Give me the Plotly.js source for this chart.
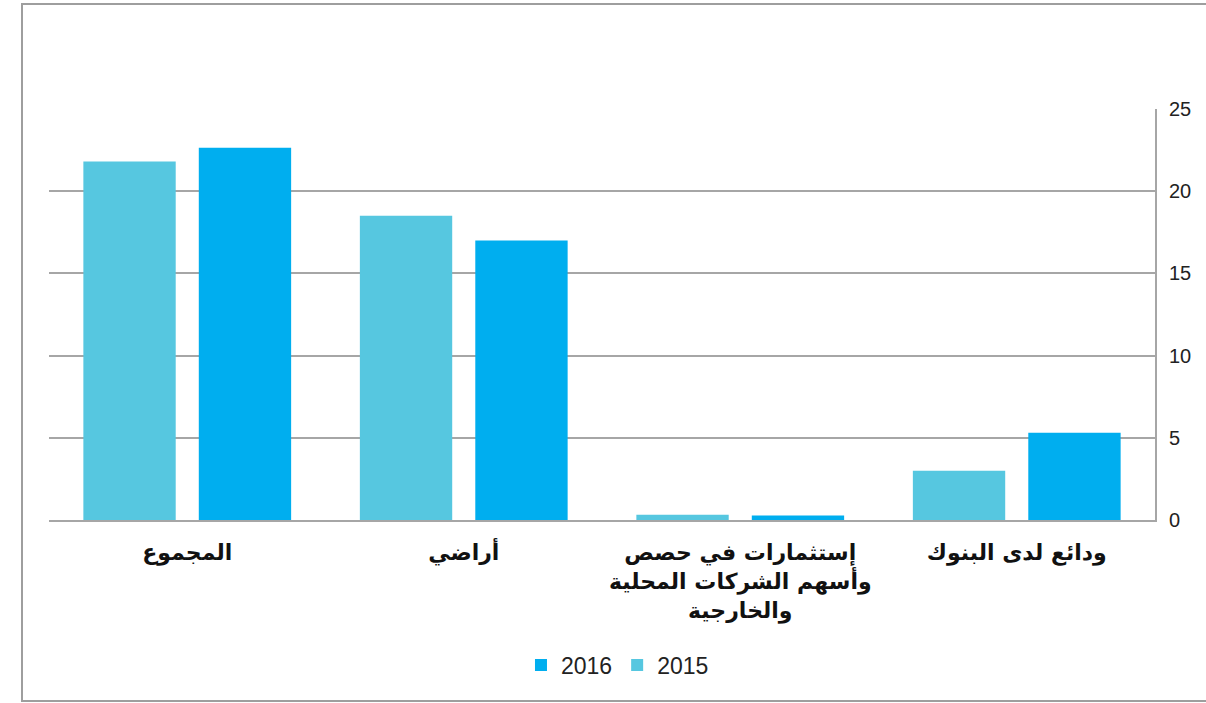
<!DOCTYPE html>
<html>
<head>
<meta charset="utf-8">
<script src="https://cdn.plot.ly/plotly-3.0.1.min.js"></script>
<style>
  html, body { margin: 0; padding: 0; background: #fff; }
  #chart { width: 1206px; height: 703px; }
</style>
</head>
<body>
<div id="chart"></div>
<script>
// categories listed right-to-left (the x axis is reversed)
const categories = [
  "ودائع لدى البنوك",
  "إستثمارات في حصص<br>وأسهم الشركات المحلية<br>والخارجية",
  "أراضي",
  "المجموع"
];
const values2016 = [5.3, 0.28, 17.0, 22.65];
const values2015 = [3.0, 0.32, 18.5, 21.8];
const yTicks = [0, 5, 10, 15, 20, 25];

const grid = "#a6a6a6";

Plotly.newPlot("chart", [
  {type: "bar", name: "2016", x: categories, y: values2016,
   marker: {color: "#00aeef"}},
  {type: "bar", name: "2015", x: categories, y: values2015,
   marker: {color: "#56c7e0"}}
], {
  width: 1206,
  height: 703,
  margin: {l: 49, r: 51, t: 109, b: 183},
  paper_bgcolor: "#fff",
  plot_bgcolor: "#fff",
  barmode: "group",
  bargap: 0.165,
  bargroupgap: 0.2,
  showlegend: true,
  legend: {
    orientation: "h", x: 0.514, xanchor: "center", y: -0.353, yanchor: "middle",
    font: {family: "Liberation Sans, Arial, sans-serif", size: 23, color: "#222"},
    itemwidth: 30
  },
  xaxis: {
    type: "category",
    autorange: "reversed",
    showline: true, linecolor: grid, linewidth: 2,
    ticks: "outside", ticklen: 12, tickcolor: "rgba(0,0,0,0)",
    tickfont: {family: "DejaVu Sans, sans-serif", size: 22, color: "#111", weight: "bold"},
    showgrid: false
  },
  yaxis: {
    side: "right",
    range: [0, 25],
    tickvals: yTicks,
    showgrid: true, gridcolor: grid, gridwidth: 2,
    zeroline: false,
    showline: true, linecolor: grid, linewidth: 2,
    ticks: "outside", ticklen: 8, tickcolor: "rgba(0,0,0,0)",
    tickfont: {family: "Liberation Sans, Arial, sans-serif", size: 20, color: "#222"}
  },
  shapes: [{
    type: "rect", xref: "paper", yref: "paper",
    x0: (22 - 49) / 1106, x1: (1212 - 49) / 1106,
    y0: (520 - 701) / 411, y1: (520 - 4) / 411,
    line: {color: "#9e9e9e", width: 2}, fillcolor: "rgba(0,0,0,0)"
  }]
}, {displayModeBar: false, staticPlot: true});
</script>
</body>
</html>
